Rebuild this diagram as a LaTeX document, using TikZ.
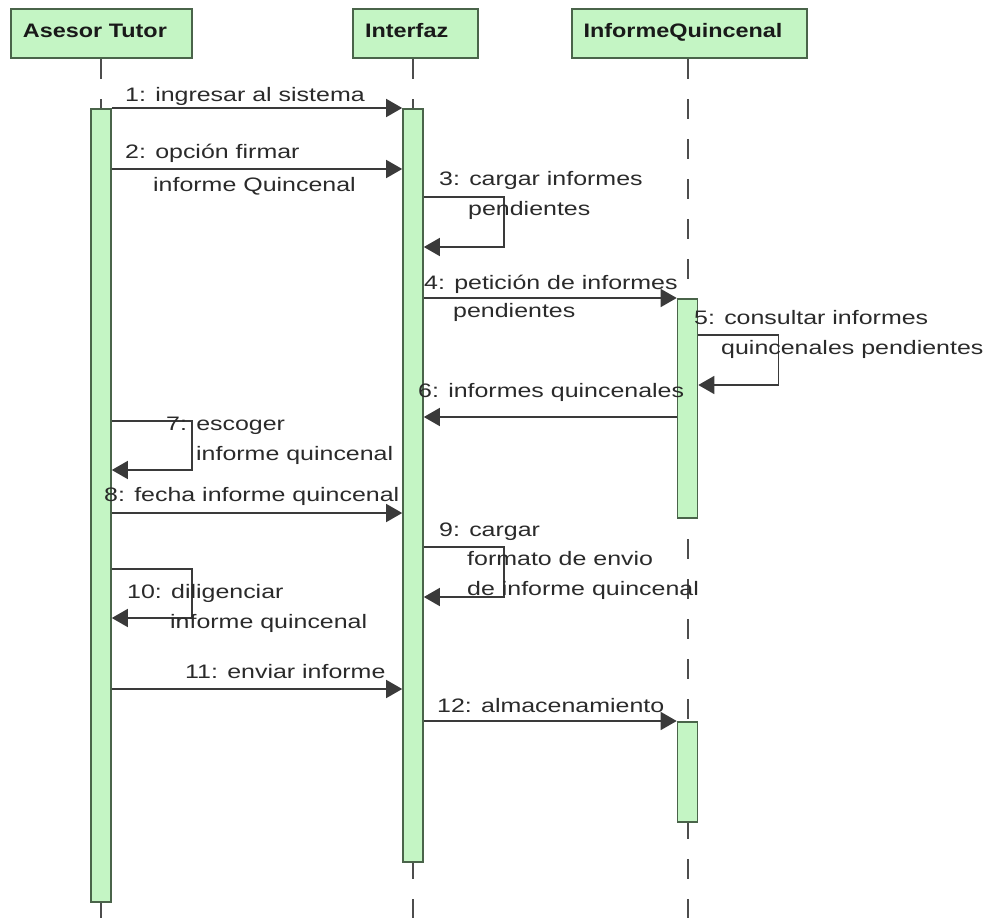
\documentclass[tikz,border=0pt]{standalone}
\usepackage{fontspec}
\setmainfont{Liberation Sans}[FakeStretch=1.28]
\newfontfamily\hdrfont{Liberation Sans}[FakeStretch=1.2]
\usetikzlibrary{arrows.meta}
\definecolor{actfill}{HTML}{C4F5C4}
\definecolor{actdraw}{HTML}{4A644A}
\definecolor{msgcol}{HTML}{3A3A3A}
\definecolor{lifecol}{HTML}{4D4D4D}
\definecolor{txtcol}{HTML}{2A2A2A}

\begin{document}
\begin{tikzpicture}[x=1pt,y=-1pt,
  hdr/.style={draw=actdraw, line width=2pt, fill=actfill, anchor=north west,
    minimum height=49pt, inner xsep=12pt, inner ysep=0pt, align=left,
    text height=14pt, text depth=5.6pt, text=black!90,
    font=\hdrfont\bfseries\fontsize{19.5}{23}\selectfont},
  actbar/.style={draw=actdraw, line width=1.6pt, fill=actfill,
    minimum width=20pt, inner sep=0pt, anchor=north},
  life/.style={draw=lifecol, line width=2pt, dash pattern=on 20pt off 20pt},
  msg/.style={draw=msgcol, line width=1.5pt,
    -{Triangle[length=16pt,width=18pt]}},
  lbl/.style={anchor=base west, inner sep=0pt, text=txtcol,
    font=\fontsize{19.5}{29.5}\selectfont}
]
\useasboundingbox (0,0) rectangle (994,918);

% participants
\node[hdr, text width=157pt] (hA) at (10,8) {Asesor Tutor};
\node[hdr, text width=101pt] (hI) at (352,8) {Interfaz};
\node[hdr, text width=211.5pt] (hQ) at (570.5,8) {InformeQuincenal};

% lifeline ends
\coordinate (eA) at (101,918);
\coordinate (eI) at (413,918);
\coordinate (eQ) at (687.5,918);

\draw[life] (hA.south -| eA) -- (eA);
\draw[life] (hI.south -| eI) -- (eI);
\draw[life] (hQ.south -| eQ) -- (eQ);

% activation bars
\node[actbar, minimum height=793pt] (bA) at (101,108) {};
\node[actbar, minimum height=753pt] (bI) at (413,108) {};
\node[actbar, minimum height=219pt] (bQ1) at (687.5,298) {};
\node[actbar, minimum height=100pt] (bQ2) at (687.5,721) {};

% message levels
\coordinate (m1) at (0,108);
\coordinate (m2) at (0,169);
\coordinate (m3) at (0,197);
\coordinate (m3e) at (0,247);
\coordinate (m4) at (0,298);
\coordinate (m5) at (0,335);
\coordinate (m5e) at (0,385);
\coordinate (m6) at (0,417);
\coordinate (m7) at (0,421);
\coordinate (m7e) at (0,470);
\coordinate (m8) at (0,513);
\coordinate (m9) at (0,547);
\coordinate (m9e) at (0,597);
\coordinate (m10) at (0,569);
\coordinate (m10e) at (0,618);
\coordinate (m11) at (0,689);
\coordinate (m12) at (0,721);

% messages
\draw[msg] (bA.east |- m1) -- (bI.west |- m1);
\draw[msg] (bA.east |- m2) -- (bI.west |- m2);
\draw[msg] (bI.east |- m3) -- ++(80,0) |- (bI.east |- m3e);
\draw[msg] (bI.east |- m4) -- (bQ1.west |- m4);
\draw[msg] (bQ1.east |- m5) -- ++(80,0) |- (bQ1.east |- m5e);
\draw[msg] (bQ1.west |- m6) -- (bI.east |- m6);
\draw[msg] (bA.east |- m7) -- ++(80,0) |- (bA.east |- m7e);
\draw[msg] (bA.east |- m8) -- (bI.west |- m8);
\draw[msg] (bI.east |- m9) -- ++(80,0) |- (bI.east |- m9e);
\draw[msg] (bA.east |- m10) -- ++(80,0) |- (bA.east |- m10e);
\draw[msg] (bA.east |- m11) -- (bI.west |- m11);
\draw[msg] (bI.east |- m12) -- (bQ2.west |- m12);

% message labels
\node[lbl] (l1) at (125,101) {1: ingresar al sistema};
\node[lbl] (l2a) at (125,158) {2: opción firmar};
\node[lbl] (l2b) at (153,191) {informe Quincenal};
\node[lbl] (l3a) at (439,185) {3: cargar informes};
\node[lbl] (l3b) at (468,215) {pendientes};
\node[lbl] (l4a) at (424,289) {4: petición de informes};
\node[lbl] (l4b) at (453,317) {pendientes};
\node[lbl] (l5a) at (694,324) {5: consultar informes};
\node[lbl] (l5b) at (721,354) {quincenales pendientes};
\node[lbl] (l6) at (418,397) {6: informes quincenales};
\node[lbl] (l7a) at (166,430) {7: escoger};
\node[lbl] (l7b) at (196,460) {informe quincenal};
\node[lbl] (l8) at (104,501) {8: fecha informe quincenal};
\node[lbl] (l9a) at (439,536) {9: cargar};
\node[lbl] (l9b) at (467,565) {formato de envio};
\node[lbl] (l9c) at (467,595) {de informe quincenal};
\node[lbl] (l10a) at (127,598) {10: diligenciar};
\node[lbl] (l10b) at (170,628) {informe quincenal};
\node[lbl] (l11) at (185,678) {11: enviar informe};
\node[lbl] (l12) at (437,712) {12: almacenamiento};
\end{tikzpicture}
\end{document}
